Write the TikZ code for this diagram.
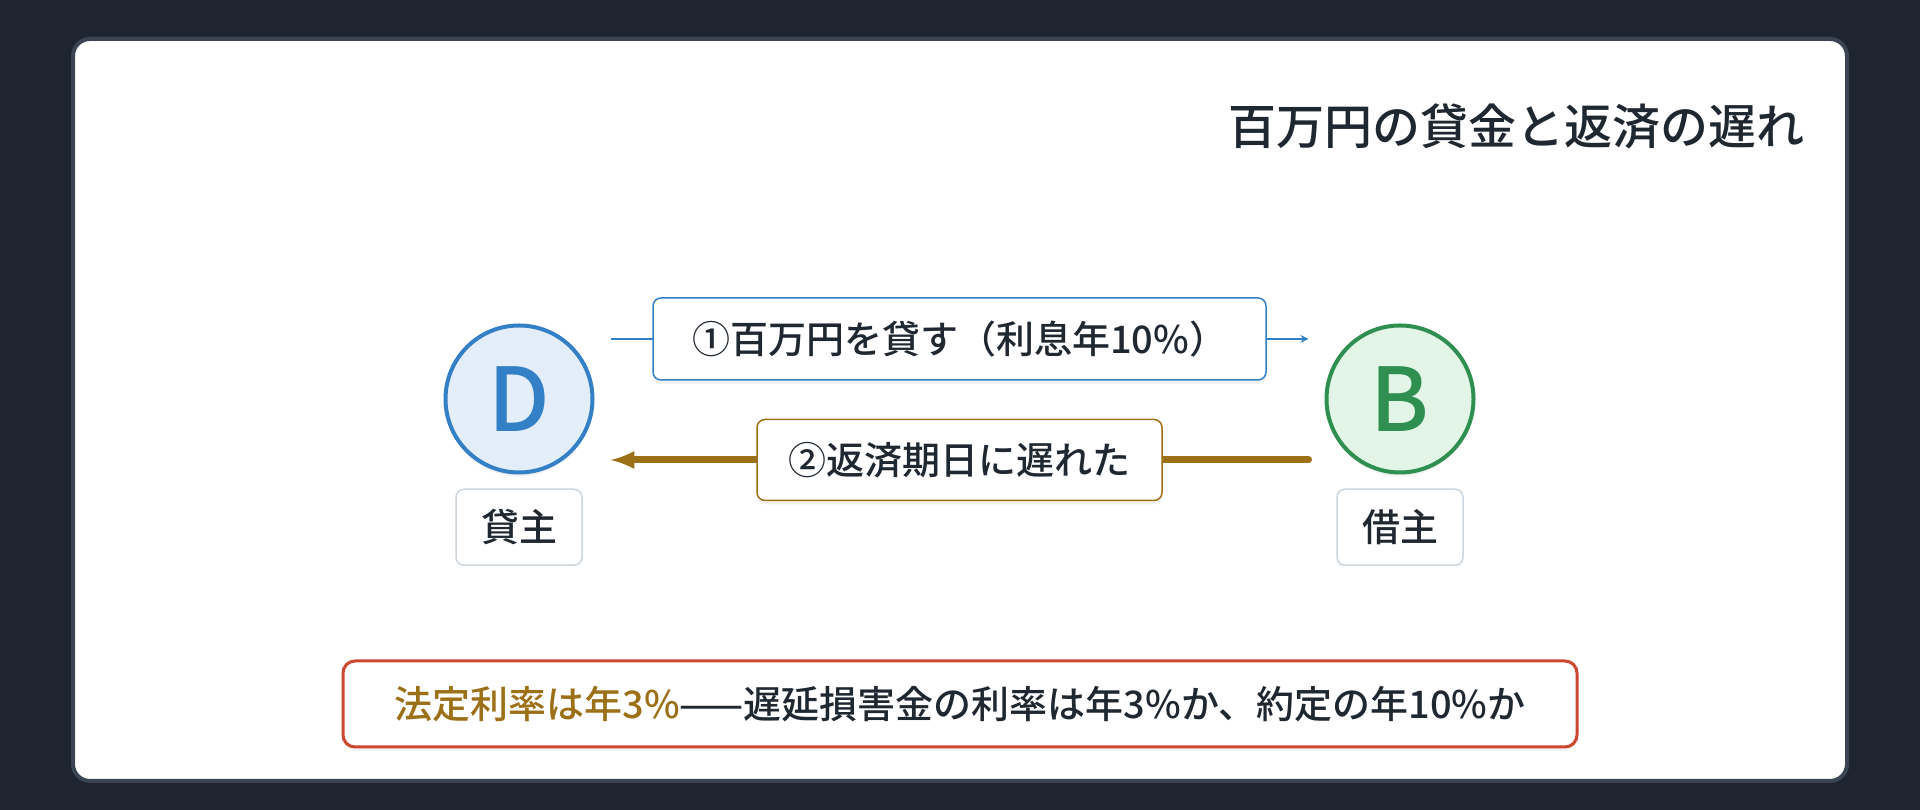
\documentclass[tikz,border=0pt]{standalone}
\usepackage{fontspec}
\setmainfont{Noto Sans CJK JP Medium}[BoldFont={Noto Sans CJK JP Bold}]
\usetikzlibrary{arrows, positioning, shadows}
\definecolor{pagebg}{HTML}{1E2530}
\definecolor{cardedge}{HTML}{3A4452}
\definecolor{ink}{HTML}{1F2731}
\definecolor{lendblue}{HTML}{3380C6}
\definecolor{lendfill}{HTML}{E4EEFA}
\definecolor{borrowgreen}{HTML}{2E8F50}
\definecolor{borrowfill}{HTML}{E3F5E7}
\definecolor{latebrown}{HTML}{9C7016}
\definecolor{notered}{HTML}{CC4630}
\definecolor{rolegray}{HTML}{CDD5DF}
\tikzstyle{softshadow} = [drop shadow={opacity=0.10, shadow xshift=0pt, shadow yshift=-4pt}]
\tikzstyle{party_lender} = [circle, minimum size=147pt, line width=4pt, draw=lendblue, fill=lendfill, text=lendblue, font=\fontsize{88}{88}\selectfont, softshadow]
\tikzstyle{party_borrower} = [circle, minimum size=147pt, line width=4pt, draw=borrowgreen, fill=borrowfill, text=borrowgreen, font=\fontsize{88}{88}\selectfont, softshadow]
\tikzstyle{role} = [rectangle, rounded corners=8pt, minimum width=126pt, minimum height=76pt, draw=rolegray, line width=1.5pt, fill=white, text=ink, font=\fontsize{38}{38}\selectfont]
\tikzstyle{loan_label} = [rectangle, rounded corners=8pt, minimum width=613pt, minimum height=82pt, draw=lendblue, line width=1.5pt, fill=white, text=ink, font=\fontsize{38}{38}\selectfont, softshadow]
\tikzstyle{late_label} = [rectangle, rounded corners=8pt, minimum width=405pt, minimum height=81pt, draw=latebrown, line width=1.5pt, fill=white, text=ink, font=\fontsize{38}{38}\selectfont, softshadow]
\tikzstyle{note} = [rectangle, rounded corners=12pt, minimum width=1234pt, minimum height=86pt, draw=notered, line width=3pt, fill=white, text=ink, font=\fontsize{38}{38}\selectfont, softshadow]
\tikzstyle{loan_arrow} = [draw=lendblue, line width=2.5pt, -stealth]
\tikzstyle{late_arrow} = [draw=latebrown, line width=7pt, line cap=round, -latex]

\begin{document}
\begin{tikzpicture}[x=1pt, y=1pt, node distance=14pt]
        \fill [pagebg] (0,0) rectangle (1920,810);
        \useasboundingbox (0,0) rectangle (1920,810);
        \draw [cardedge, line width=4pt, fill=white, rounded corners=17pt] (73,29) rectangle (1847,771);

        \node (title) [anchor=east, text=ink, font=\fontsize{48}{48}\selectfont] at (1808,684) {百万円の貸金と返済の遅れ};

        \node (lender) [party_lender] at (519,411) {D};
        \node (borrower) [party_borrower] at (1400,411) {B};
        \node (lender_role) [role, below=14pt of lender] {貸主};
        \node (borrower_role) [role, below=14pt of borrower] {借主};

        \draw [loan_arrow] ([xshift=16pt, yshift=60pt]lender.east) -- node (loan) [loan_label] {①百万円を貸す（利息年10\%）} ([xshift=-16pt, yshift=60pt]borrower.west);
        \draw [late_arrow] ([xshift=-16pt, yshift=-61pt]borrower.west) -- node (late) [late_label] {②返済期日に遅れた} ([xshift=16pt, yshift=-61pt]lender.east);

        \node (rate_note) [note] at (960,106) {\textcolor{latebrown}{法定利率は年3\%}——遅延損害金の利率は年3\%か、約定の年10\%か};
    \end{tikzpicture}
\end{document}
